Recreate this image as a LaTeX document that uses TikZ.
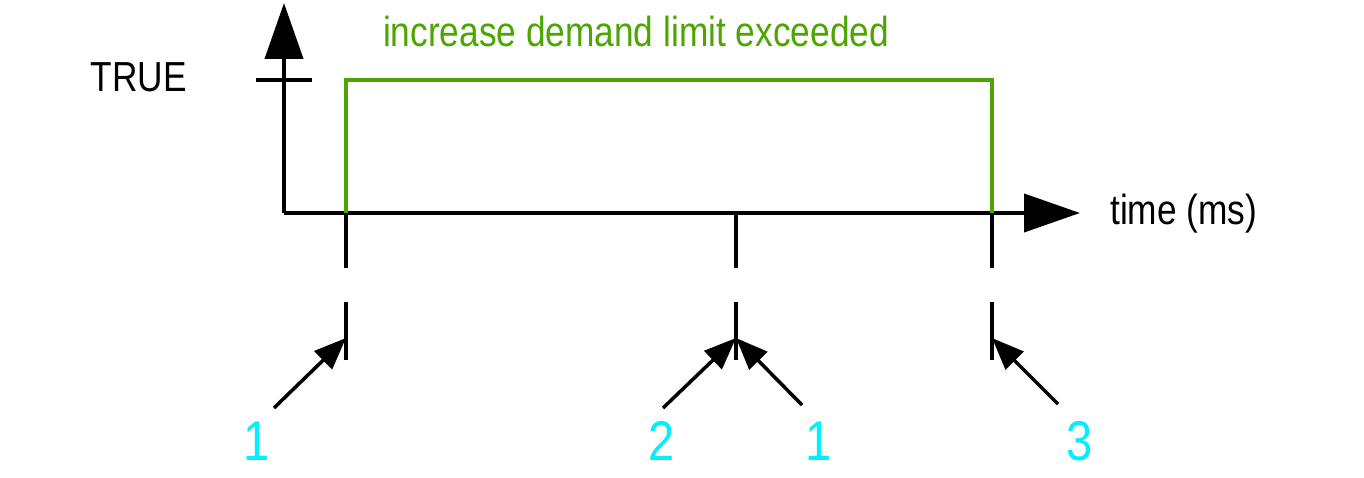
\documentclass[tikz,border=0pt]{standalone}
\usepackage{fontspec}
\setmainfont[FakeStretch=0.84]{Liberation Sans}
\usetikzlibrary{arrows.meta}
\definecolor{sigGreen}{RGB}{76,165,0}
\definecolor{numCyan}{RGB}{0,240,255}
\tikzset{
  axisline/.style={line width=4pt, -{Triangle[length=56pt,width=38pt]}},
  tickline/.style={line width=3.5pt},
  signal/.style={line width=4pt, draw=sigGreen, line join=miter},
  pointer/.style={line width=3.5pt, -{Triangle[length=32pt,width=25pt]}},
  lbl/.style={inner sep=0pt, font=\fontsize{42}{50}\selectfont},
  num/.style={inner sep=0pt, text=numCyan, font=\fontsize{56}{64}\selectfont, anchor=base},
}
\begin{document}
\begin{tikzpicture}[x=1pt,y=-1pt]
\useasboundingbox (0,0) rectangle (1364,478);
% origin and axes
\coordinate (o) at (284,213);
\coordinate (ytip) at (284,3);
\coordinate (xtip) at (1080,213);
\draw[axisline] (o) -- (ytip);
\draw[axisline] (o) -- (xtip);
% TRUE tick
\coordinate (tl) at (256,80);
\coordinate (tr) at (312,80);
\draw[tickline, line width=4pt] (tl) -- (tr);
\node[lbl, anchor=base east] (true) at (187,92) {TRUE};
\node[lbl, anchor=base west] (time) at (1110,225) {time (ms)};
% signal
\coordinate (s0) at (346,213);
\coordinate (s1) at (346,80);
\coordinate (s2) at (992,80);
\coordinate (s3) at (992,213);
\draw[signal] (s0) -- (s1) -- (s2) -- (s3);
\node[lbl, text=sigGreen, anchor=base] (sig) at (636,47) {increase demand limit exceeded};
% time marks
\foreach \x/\n in {346/a,736/b,992/c}{
  \coordinate (\n1) at (\x,213);
  \coordinate (\n2) at (\x,268);
  \coordinate (\n3) at (\x,302);
  \coordinate (\n4) at (\x,360);
  \coordinate (\n-tip) at (\x,338);
  \draw[tickline] (\n1) -- (\n2);
  \draw[tickline] (\n3) -- (\n4);
}
% pointers
\coordinate (p1) at (274,408);
\coordinate (p2) at (663,408);
\coordinate (p3) at (802,405);
\coordinate (p4) at (1058,404);
\draw[pointer] (p1) -- (a-tip);
\draw[pointer] (p2) -- (b-tip);
\draw[pointer] (p3) -- (b-tip);
\draw[pointer] (p4) -- (c-tip);
% numbers
\node[num] (n1) at (257,460) {1};
\node[num] (n2) at (662,460) {2};
\node[num] (n3) at (819,460) {1};
\node[num] (n4) at (1080,460) {3};
\end{tikzpicture}
\end{document}
